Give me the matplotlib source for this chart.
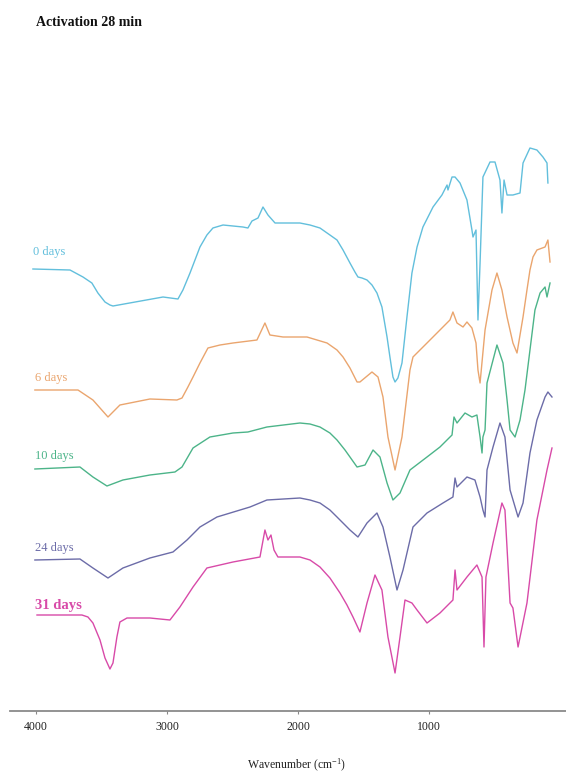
import matplotlib
matplotlib.use("Agg")
import matplotlib.pyplot as plt

plt.rcParams['font.family'] = ['Liberation Serif', 'DejaVu Serif']
plt.rcParams['mathtext.fontset'] = 'custom'
plt.rcParams['mathtext.rm'] = 'Liberation Serif'
plt.rcParams['mathtext.it'] = 'Liberation Serif:italic'

# ---- data: wavenumber (cm-1) and offset transmittance (a.u.) ----
labels = ["0 days", "6 days", "10 days", "24 days", "31 days"]
colors = ["#62bfdc", "#eaa56e", "#4cb489", "#6c6ca8", "#d84aa8"]

wn_0 = [4023, 3740, 3641, 3573, 3527, 3473, 3435, 3412, 3030, 2916, 2878, 2824, 2786,
        2748, 2695, 2649, 2572, 2420, 2382, 2351, 2305, 2267, 2229, 2175, 1985, 1908,
        1832, 1756, 1702, 1656, 1603, 1565, 1542, 1511, 1473, 1435, 1397, 1359, 1320,
        1298, 1275, 1259, 1237, 1206, 1168, 1130, 1091, 1046, 969, 901, 862, 855, 824,
        801, 763, 710, 672, 664, 641, 626, 610, 588, 534, 496, 458, 443, 427, 404, 359,
        305, 282, 229, 176, 130, 99, 92]
t_0 = [442, 441, 434, 428, 418, 409, 406, 405, 414, 412, 421, 438, 451, 464, 476, 483,
       486, 484, 483, 490, 493, 504, 496, 488, 488, 486, 483, 476, 471, 461, 448, 439,
       434, 433, 431, 426, 418, 404, 374, 354, 334, 329, 333, 348, 394, 438, 464, 484,
       504, 516, 526, 521, 534, 534, 528, 511, 481, 474, 481, 391, 448, 534, 549, 549,
       531, 498, 531, 516, 516, 518, 548, 563, 561, 554, 548, 528]

wn_6 = [4008, 3679, 3565, 3450, 3359, 3130, 2924, 2885, 2840, 2801, 2748, 2687, 2595,
        2496, 2313, 2252, 2214, 2114, 1931, 1778, 1702, 1656, 1603, 1549, 1527, 1435,
        1389, 1351, 1313, 1259, 1206, 1145, 1122, 1015, 916, 840, 817, 786, 740, 710,
        672, 641, 626, 610, 572, 519, 481, 443, 404, 359, 328, 282, 252, 229, 206, 176,
        114, 92, 76]
t_6 = [321, 321, 311, 294, 306, 312, 311, 313, 324, 334, 348, 363, 366, 368, 371, 388,
       376, 374, 374, 368, 361, 354, 343, 329, 329, 339, 334, 314, 274, 241, 274, 341,
       354, 368, 381, 391, 399, 388, 384, 389, 383, 368, 341, 328, 381, 421, 438, 421,
       394, 368, 358, 394, 421, 441, 454, 461, 464, 471, 449]

wn_10 = [4008, 3664, 3565, 3458, 3336, 3130, 2939, 2885, 2801, 2672, 2496, 2382, 2237,
         1985, 1908, 1832, 1756, 1702, 1641, 1603, 1549, 1488, 1427, 1374, 1320, 1275,
         1221, 1145, 1015, 916, 824, 809, 786, 725, 672, 634, 610, 595, 588, 572, 557,
         481, 435, 404, 381, 343, 305, 267, 229, 191, 152, 114, 99, 76]
t_10 = [242, 244, 234, 225, 231, 236, 239, 244, 263, 274, 278, 279, 284, 288, 287, 284,
        278, 271, 261, 254, 244, 246, 261, 254, 228, 211, 218, 241, 254, 264, 276, 294,
        288, 298, 294, 296, 274, 258, 274, 281, 328, 366, 348, 311, 281, 274, 291, 321,
        361, 401, 418, 424, 414, 428]

wn_24 = [4008, 3664, 3565, 3450, 3336, 3130, 2954, 2847, 2748, 2618, 2366, 2237, 1985,
         1908, 1832, 1756, 1702, 1641, 1603, 1542, 1473, 1397, 1351, 1298, 1244, 1198,
         1122, 1015, 893, 817, 801, 786, 710, 649, 610, 588, 572, 557, 511, 458, 420, 381,
         320, 282, 229, 176, 114, 92, 61]
t_24 = [151, 152, 143, 133, 143, 153, 159, 171, 184, 194, 204, 211, 213, 211, 208, 201,
        194, 186, 181, 174, 188, 198, 184, 154, 121, 141, 184, 198, 208, 214, 233, 224,
        234, 231, 214, 201, 194, 241, 264, 288, 274, 221, 194, 208, 258, 291, 314, 319,
        314]

wn_31 = [3992, 3649, 3603, 3565, 3511, 3473, 3435, 3412, 3382, 3359, 3305, 3130, 2977,
         2901, 2801, 2695, 2496, 2290, 2252, 2229, 2206, 2183, 2153, 1985, 1908, 1832,
         1756, 1679, 1626, 1580, 1527, 1473, 1412, 1359, 1313, 1259, 1221, 1183, 1130,
         1091, 1015, 916, 817, 801, 786, 710, 634, 595, 580, 565, 511, 443, 420, 381, 359,
         320, 252, 176, 99, 61]
t_31 = [96, 96, 94, 88, 71, 53, 42, 48, 74, 89, 93, 93, 91, 104, 124, 143, 149, 154,
        181, 171, 176, 161, 154, 154, 151, 144, 133, 118, 106, 94, 79, 108, 136, 121, 74,
        38, 74, 111, 108, 101, 88, 98, 111, 141, 121, 134, 146, 134, 64, 134, 168, 208,
        201, 108, 103, 64, 108, 191, 241, 263]

xticks = [4000, 3000, 2000, 1000]

series_x = [wn_0, wn_6, wn_10, wn_24, wn_31]
series_y = [t_0, t_6, t_10, t_24, t_31]

# ---- figure ----
fig = plt.figure(figsize=(5.66, 7.76), dpi=100)
ax = fig.add_axes([10 / 566, 65 / 776, 556 / 566, 633 / 776])

for xs, ys, c in zip(series_x, series_y, colors):
    ax.plot(xs, ys, color=c, lw=1.0, solid_joinstyle='round')

ax.set_xlim(4198, -46)
ax.set_ylim(0, 633)
ax.set_xticks(xticks)
ax.set_xticklabels([str(v) for v in xticks], fontsize=8.5, color='#222222')
ax.tick_params(axis='x', direction='out', length=2.5, width=0.8, color='#888888', pad=5)
ax.set_yticks([])
for s in ['top', 'right', 'left']:
    ax.spines[s].set_visible(False)
ax.spines['bottom'].set_color('#8a8a8a')
ax.spines['bottom'].set_linewidth(1.3)

ax.set_xlabel('Wavenumber (cm$^{-1}$)', fontsize=8.5, color='#222222')
ax.xaxis.set_label_coords(0.515, -0.072)

# curve labels
label_pos = [(4020, 459, 9, 'normal'), (4010, 333, 9, 'normal'), (4010, 255, 9, 'normal'),
             (4010, 163, 9, 'normal'), (4005, 106, 10.5, 'bold')]
for (x, y, fs, fw), lab, c in zip(label_pos, labels, colors):
    ax.text(x, y, lab, color=c, fontsize=fs, fontweight=fw, ha='left', va='center')

fig.text(36 / 566, 1 - 22 / 776, 'Activation 28 min', fontsize=10, fontweight='bold',
         ha='left', va='center', color='#111111')

fig.savefig('out.png', dpi=100, facecolor='white')
